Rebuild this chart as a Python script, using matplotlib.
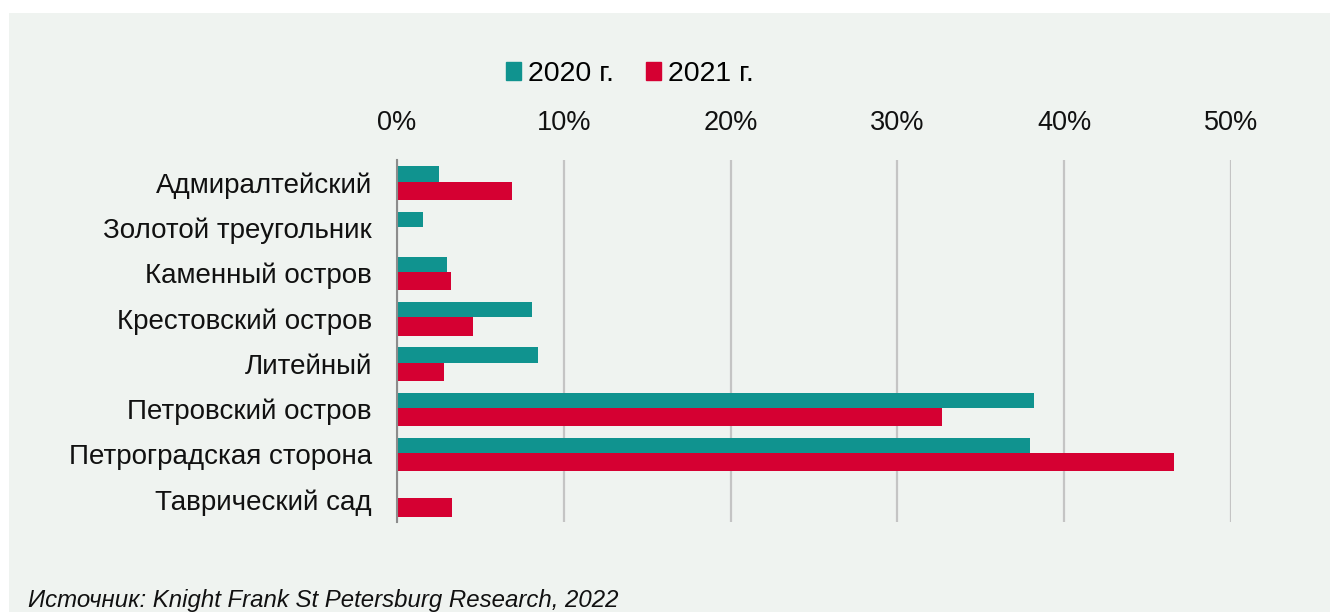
import matplotlib
matplotlib.use("Agg")
import matplotlib.pyplot as plt
from matplotlib.patches import Rectangle

plt.rcParams['font.family'] = ['Liberation Sans', 'DejaVu Sans']

categories = ["Адмиралтейский", "Золотой треугольник", "Каменный остров",
              "Крестовский остров", "Литейный", "Петровский остров",
              "Петроградская сторона", "Таврический сад"]
series_2020 = [2.5, 1.55, 3.0, 8.1, 8.45, 38.2, 37.95, 0.0]
series_2021 = [6.9, 0.0, 3.25, 4.55, 2.8, 32.7, 46.6, 3.3]
series_names = ["2020 г.", "2021 г."]
x_ticks = [0, 10, 20, 30, 40, 50]
x_tick_labels = ["0%", "10%", "20%", "30%", "40%", "50%"]
source_text = "Источник: Knight Frank St Petersburg Research, 2022"

TEAL = "#10938f"
RED = "#d50032"
BG = "#eff3f0"

fig = plt.figure(figsize=(13.3, 6.12), dpi=100)
fig.patch.set_facecolor("white")
fig.patches.append(Rectangle((9 / 1330, 0), 1 - 9 / 1330, 1 - 13 / 612,
                             transform=fig.transFigure, facecolor=BG,
                             edgecolor="none", zorder=-10))

ax = fig.add_axes([397 / 1330, 1 - 522 / 612, (1231 - 397) / 1330, (522 - 160) / 612])
ax.patch.set_alpha(0)

ypos = list(range(len(categories)))
ax.barh([y - 0.19 for y in ypos], series_2020, height=0.34, color=TEAL, zorder=3)
ax.barh([y + 0.18 for y in ypos], series_2021, height=0.40, color=RED, zorder=3)

ax.set_xlim(0, 50)
ax.set_ylim(len(categories) - 0.5, -0.5)
ax.set_yticks(ypos)
ax.set_yticklabels(categories, fontsize=20, color="#111111")
ax.set_xticks(x_ticks)
ax.set_xticklabels(x_tick_labels, fontsize=19.5, color="#111111")
ax.xaxis.tick_top()
ax.tick_params(axis="x", length=0, pad=17)
ax.tick_params(axis="y", length=0, pad=18)

for s in ["top", "right", "bottom"]:
    ax.spines[s].set_visible(False)
ax.spines["left"].set_color("#8c8c8c")
ax.spines["left"].set_linewidth(1.5)
ax.spines["left"].set_zorder(4)

ax.grid(axis="x", color="#c4c4c4", linewidth=1.6, zorder=1)
ax.grid(axis="y", visible=False)

handles = [Rectangle((0, 0), 1, 1, color=TEAL), Rectangle((0, 0), 1, 1, color=RED)]
fig.legend(handles, series_names, loc="center", bbox_to_anchor=(630 / 1330, 1 - 74 / 612),
           ncol=2, frameon=False, fontsize=20.5, handlelength=0.55, handleheight=0.55,
           handletextpad=0.25, columnspacing=1.1, borderpad=0)

fig.text(28 / 1330, 1 - 600 / 612, source_text, fontsize=17.3, style="italic",
         color="#111111", ha="left", va="center")

fig.savefig("out.png", dpi=100, facecolor=fig.get_facecolor())
